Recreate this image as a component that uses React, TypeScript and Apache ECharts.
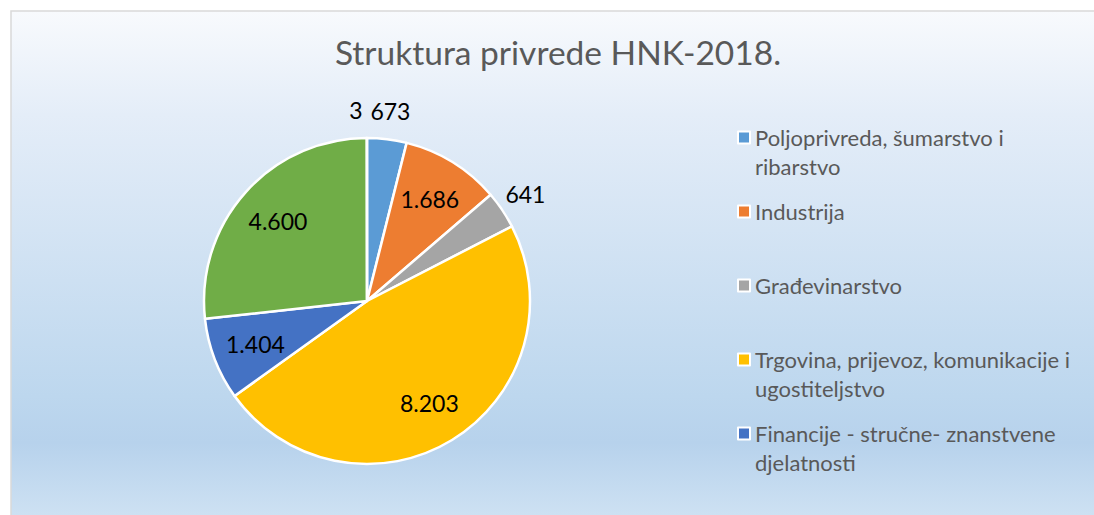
import React, { useEffect, useRef } from "react";
import * as echarts from "echarts";

const titleText = "Struktura privrede HNK-2018.";
const categories = [
  "Poljoprivreda, šumarstvo i ribarstvo",
  "Industrija",
  "Građevinarstvo",
  "Trgovina, prijevoz, komunikacije i ugostiteljstvo",
  "Financije - stručne- znanstvene djelatnosti",
  "Ostale djelatnosti",
  "Ostalo",
];
const values = [673, 1686, 641, 8203, 1404, 4600, 3];
const colors = ["#5B9BD5", "#ED7D31", "#A5A5A5", "#FFC000", "#4472C4", "#70AD47", "#255E91"];
const legendShown = categories.slice(0, 5);
const wrappedInLegend = [true, false, false, true, true];
const insideMin = 1000;

const FONT = "Lato, 'Open Sans', sans-serif";
const fmt = (v: number) => String(v).replace(/\B(?=(\d{3})+(?!\d))/g, ".");

export default function App() {
  const ref = useRef<HTMLDivElement>(null);
  useEffect(() => {
    document.body.style.margin = "0";
    const chart = echarts.init(ref.current!, null, { renderer: "svg" });
    const center = [367, 301];
    const baseData = categories.map((name, i) => ({ name, value: values[i] }));
    const LH = 29;
    chart.setOption({
      animation: false,
      graphic: [
        {
          type: "rect",
          z: -10,
          shape: { x: 11, y: 11, width: 1100, height: 520 },
          style: {
            fill: new echarts.graphic.LinearGradient(0, 0, 0, 1, [
              { offset: 0, color: "#f8fafd" },
              { offset: 0.2, color: "#e4edf8" },
              { offset: 0.74, color: "#bdd7ee" },
              { offset: 0.83, color: "#b7d2ec" },
              { offset: 1, color: "#d2e4f4" },
            ]),
            stroke: "#d9d9d9",
            lineWidth: 1.5,
          },
          silent: true,
        },
        {
          type: "text",
          x: 558,
          y: 52,
          style: {
            text: titleText,
            align: "center",
            verticalAlign: "middle",
            fontSize: 33.5,
            fontFamily: FONT,
            fill: "#595959",
          },
          silent: true,
        },
      ],
      legend: {
        orient: "vertical",
        left: 737,
        top: 94,
        padding: 0,
        itemGap: -13,
        itemWidth: 12,
        itemHeight: 12,
        icon: "rect",
        itemStyle: { borderColor: "#ffffff", borderWidth: 2 },
        selectedMode: false,
        data: legendShown,
        formatter: (name: string) => {
          const i = legendShown.indexOf(name);
          return wrappedInLegend[i] ? "\u00a0\n" + name : "\u00a0\n" + name + "\n\u00a0";
        },
        textStyle: {
          fontFamily: FONT,
          fontSize: 22,
          lineHeight: LH,
          color: "#595959",
          width: 326,
          overflow: "break",
        },
      },
      series: [
        {
          type: "pie",
          center,
          radius: [0, 163],
          startAngle: 90,
          clockwise: true,
          data: baseData.map((d, i) => ({ ...d, itemStyle: { color: colors[i] } })),
          itemStyle: { borderColor: "#ffffff", borderWidth: 2.5 },
          label: { show: false },
          labelLine: { show: false },
          emphasis: { disabled: true },
        },
        {
          type: "pie",
          center,
          radius: [70, 163],
          startAngle: 90,
          clockwise: true,
          silent: true,
          legendHoverLink: false,
          data: baseData.map((d) => ({ ...d, itemStyle: { color: "rgba(0,0,0,0)" } })),
          itemStyle: { borderWidth: 0 },
          label: {
            show: true,
            position: "inside",
            fontFamily: FONT,
            fontSize: 23,
            color: "#000000",
            formatter: (p: any) => (p.value >= insideMin ? fmt(p.value) : ""),
          },
          labelLine: { show: false },
          emphasis: { disabled: true },
        },
        {
          type: "pie",
          center,
          radius: [178, 198],
          startAngle: 90,
          clockwise: true,
          silent: true,
          legendHoverLink: false,
          data: baseData.map((d) => ({ ...d, itemStyle: { color: "rgba(0,0,0,0)" } })),
          itemStyle: { borderWidth: 0 },
          label: {
            show: true,
            position: "inside",
            fontFamily: FONT,
            fontSize: 23,
            color: "#000000",
            formatter: (p: any) => (p.value < insideMin ? fmt(p.value) : ""),
          },
          labelLayout: (p: any) => (p.dataIndex === values.length - 1 ? { dx: -11 } : {}),
          labelLine: { show: false },
          emphasis: { disabled: true },
        },
      ],
    });
    return () => chart.dispose();
  }, []);
  return <div ref={ref} style={{ width: 1094, height: 515 }} />;
}
